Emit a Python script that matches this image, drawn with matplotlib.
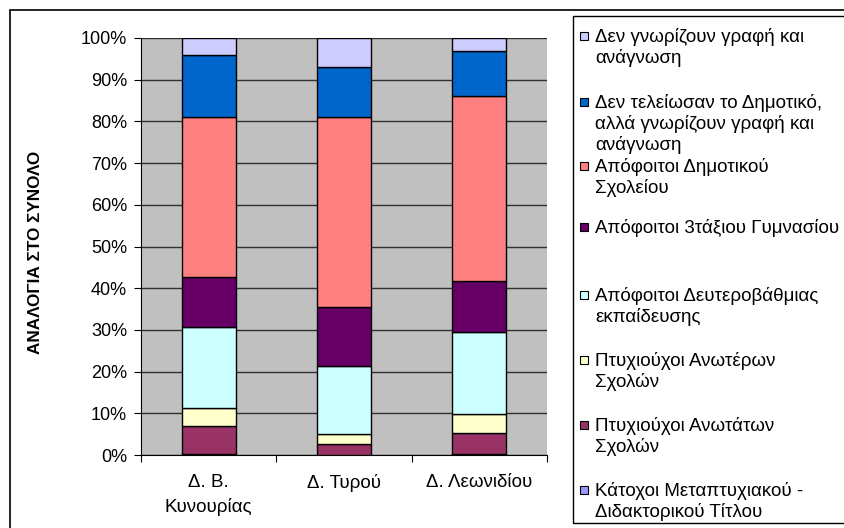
import matplotlib
matplotlib.use("Agg")
import matplotlib.pyplot as plt
from matplotlib.patches import Rectangle
import numpy as np

plt.rcParams['font.family'] = ['Liberation Sans', 'DejaVu Sans']

categories = ["Δ. Β.\nΚυνουρίας", "Δ. Τυρού", "Δ. Λεωνιδίου"]

# series from bottom to top (percent of total)
series_names = [
    "Κάτοχοι Μεταπτυχιακού -\nΔιδακτορικού Τίτλου",
    "Πτυχιούχοι Ανωτάτων\nΣχολών",
    "Πτυχιούχοι Ανωτέρων\nΣχολών",
    "Απόφοιτοι Δευτεροβάθμιας\nεκπαίδευσης",
    "Απόφοιτοι 3τάξιου Γυμνασίου",
    "Απόφοιτοι Δημοτικού\nΣχολείου",
    "Δεν τελείωσαν το Δημοτικό,\nαλλά γνωρίζουν γραφή και\nανάγνωση",
    "Δεν γνωρίζουν γραφή και\nανάγνωση",
]
katochoi = [0.3, 0.1, 0.3]
anotaton = [6.6, 2.6, 5.0]
anoteron = [4.3, 2.3, 4.6]
deuterovathmia = [19.6, 16.4, 19.7]
gymnasio = [12.0, 14.2, 12.1]
dimotiko = [38.3, 45.5, 44.4]
den_teleiosan = [14.8, 12.0, 10.7]
den_gnorizoun = [4.1, 6.9, 3.2]
series_values = [katochoi, anotaton, anoteron, deuterovathmia,
                 gymnasio, dimotiko, den_teleiosan, den_gnorizoun]
colors = ["#9999FF", "#993366", "#FFFFCC", "#CCFFFF",
          "#660066", "#FF8080", "#0066CC", "#CCCCFF"]

y_ticks = [0, 10, 20, 30, 40, 50, 60, 70, 80, 90, 100]
y_ticklabels = [f"{t}%" for t in y_ticks]
y_label = "ΑΝΑΛΟΓΙΑ ΣΤΟ ΣΥΝΟΛΟ"

W, H = 845, 528
fig = plt.figure(figsize=(W / 100, H / 100), dpi=100)


def fx(x):
    return x / W


def fy(y):
    return 1 - y / H


# outer chart border
fig.patches.append(Rectangle((fx(10), fy(540)), fx(900) - fx(10), fy(10) - fy(540),
                             transform=fig.transFigure, fill=False,
                             edgecolor='black', lw=1.2, zorder=0))

ax = fig.add_axes([fx(141), fy(455), fx(547) - fx(141), fy(38) - fy(455)])
ax.set_facecolor("#C0C0C0")

x = np.arange(len(categories))
bottom = np.zeros(len(categories))
for vals, col in zip(series_values, colors):
    ax.bar(x, vals, bottom=bottom, width=0.4, color=col, edgecolor='black',
           linewidth=1.0, zorder=3)
    bottom += np.array(vals)

ax.set_xlim(-0.5, len(categories) - 0.5)
ax.set_ylim(0, 100)
ax.set_yticks(y_ticks)
ax.set_yticklabels(y_ticklabels, fontsize=13)
ax.yaxis.grid(True, color='#303030', lw=1.0, zorder=1)
ax.set_axisbelow(True)

ax.set_xticks(np.arange(-0.5, len(categories)), minor=False)
ax.set_xticklabels([""] * (len(categories) + 1))
ax.set_xticks(x, minor=True)
ax.set_xticklabels(categories, minor=True, fontsize=13.5, linespacing=1.45)
ax.tick_params(axis='x', which='minor', length=0, pad=14)
ax.tick_params(axis='x', which='major', length=5, direction='out', color='black')
ax.tick_params(axis='y', length=5, direction='out', pad=5)

for s in ['top', 'right']:
    ax.spines[s].set_visible(False)
ax.spines['left'].set_color('black')
ax.spines['bottom'].set_color('black')

fig.text(fx(36), fy(252), y_label, rotation=90, fontsize=12.3, fontweight='bold',
         ha='center', va='center')

# legend box
fig.patches.append(Rectangle((fx(573), fy(523)), fx(900) - fx(573), fy(16) - fy(523),
                             transform=fig.transFigure, facecolor='white',
                             edgecolor='black', lw=1.0, zorder=1))
legend_line1_y = [490, 425, 360, 295, 227, 166, 102, 36]
for name, col, ly in zip(series_names, colors, legend_line1_y):
    fig.patches.append(Rectangle((fx(580), fy(ly + 4)), fx(588) - fx(580), fy(ly - 4) - fy(ly + 4),
                                 transform=fig.transFigure, facecolor=col,
                                 edgecolor='black', lw=0.8, zorder=2))
    fig.text(fx(595), fy(ly - 8), name, fontsize=13.5, ha='left', va='top',
             linespacing=1.2, zorder=3)

fig.savefig("out.png", dpi=100)
